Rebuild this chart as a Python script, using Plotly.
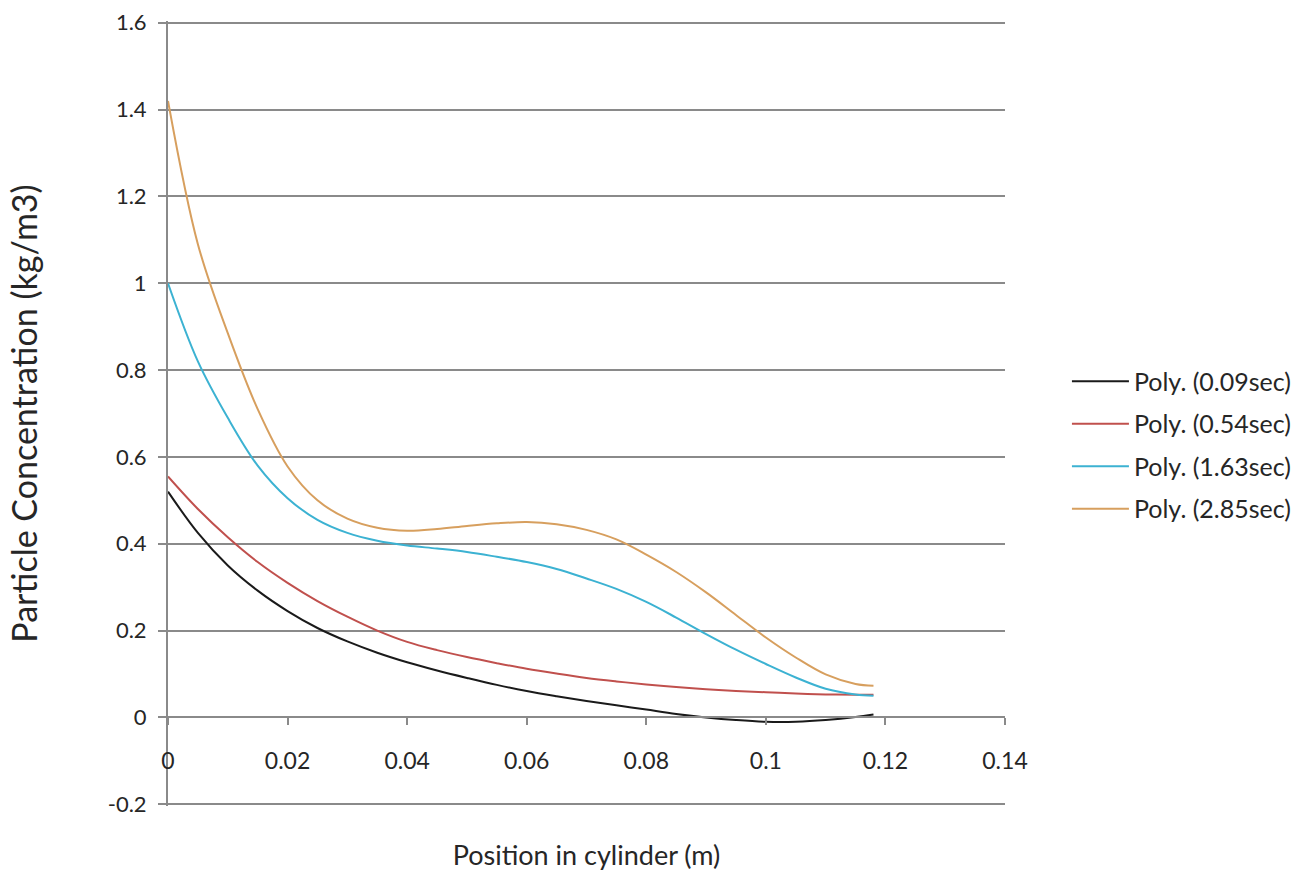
import plotly.graph_objects as go

x_pos = [0, 0.005, 0.01, 0.015, 0.02, 0.025, 0.03, 0.035, 0.04, 0.045, 0.05, 0.055,
         0.06, 0.065, 0.07, 0.075, 0.08, 0.085, 0.09, 0.095, 0.1, 0.105, 0.11, 0.115, 0.118]

poly_009 = [0.52, 0.425, 0.35, 0.292, 0.245, 0.206, 0.175, 0.149, 0.127, 0.108, 0.091, 0.075,
            0.061, 0.049, 0.038, 0.028, 0.018, 0.008, 0.000, -0.006, -0.010, -0.010, -0.006, 0.001, 0.007]
poly_054 = [0.555, 0.48, 0.415, 0.358, 0.31, 0.268, 0.232, 0.200, 0.174, 0.155, 0.139, 0.125,
            0.112, 0.101, 0.091, 0.083, 0.076, 0.070, 0.065, 0.061, 0.058, 0.055, 0.053, 0.052, 0.052]
poly_163 = [1.0, 0.82, 0.69, 0.58, 0.505, 0.455, 0.425, 0.407, 0.396, 0.389, 0.381, 0.370,
            0.358, 0.342, 0.32, 0.296, 0.266, 0.23, 0.192, 0.156, 0.123, 0.092, 0.066, 0.053, 0.05]
poly_285 = [1.42, 1.09, 0.885, 0.71, 0.578, 0.5, 0.458, 0.437, 0.43, 0.434, 0.441, 0.447,
            0.450, 0.445, 0.432, 0.41, 0.375, 0.335, 0.288, 0.236, 0.184, 0.138, 0.099, 0.077, 0.073]

series_names = ["Poly. (0.09sec)", "Poly. (0.54sec)", "Poly. (1.63sec)", "Poly. (2.85sec)"]
series_values = [poly_009, poly_054, poly_163, poly_285]
series_colors = ["#1a1a1a", "#c0504d", "#3cb2d2", "#d79f5e"]

x_ticks = [0, 0.02, 0.04, 0.06, 0.08, 0.1, 0.12, 0.14]
x_tick_text = ["0", "0.02", "0.04", "0.06", "0.08", "0.1", "0.12", "0.14"]
y_ticks = [-0.2, 0, 0.2, 0.4, 0.6, 0.8, 1, 1.2, 1.4, 1.6]
y_tick_text = ["-0.2", "0", "0.2", "0.4", "0.6", "0.8", "1", "1.2", "1.4", "1.6"]
y_range = [-0.204, 1.604]

FONT = "Lato, 'Open Sans', sans-serif"
GRID = "#8a8a8a"
TXT = "#262626"

fig = go.Figure()
for name, vals, col in zip(series_names, series_values, series_colors):
    fig.add_trace(go.Scatter(
        x=x_pos, y=vals, mode="lines", name=name, legendgroup=name,
        line=dict(color=col, width=2, shape="spline", smoothing=1.0),
    ))

# x axis crosses the value axis at y = 0
x_axis_pos = (0 - y_range[0]) / (y_range[1] - y_range[0])

fig.update_layout(
    width=1310, height=871,
    margin=dict(l=168, r=305, t=21, b=65, autoexpand=False),
    paper_bgcolor="white", plot_bgcolor="white",
    font=dict(family=FONT, size=21, color=TXT),
    showlegend=True,
    legend=dict(
        x=1.074, y=0.46, xanchor="left", yanchor="middle",
        font=dict(family=FONT, size=25, color=TXT),
        tracegroupgap=7, traceorder="grouped", itemwidth=57,
        bgcolor="rgba(0,0,0,0)",
    ),
    xaxis=dict(
        range=[0, 0.14], tickvals=x_ticks, ticktext=x_tick_text,
        automargin=False,
        showgrid=False, zeroline=False,
        showline=True, linecolor=GRID, linewidth=2,
        anchor="free", position=x_axis_pos,
        ticks="outside", ticklen=7, tickcolor=GRID, tickwidth=2,
        ticklabelstandoff=16,
        tickfont=dict(family=FONT, size=23, color=TXT),
        title=dict(text="Position in cylinder (m)", standoff=72,
                   font=dict(family=FONT, size=27, color=TXT)),
    ),
    yaxis=dict(
        range=y_range, tickvals=y_ticks, ticktext=y_tick_text,
        automargin=False,
        showgrid=True, gridcolor=GRID, gridwidth=2,
        zeroline=False,
        showline=True, linecolor=GRID, linewidth=2,
        ticks="outside", ticklen=8, tickcolor=GRID, tickwidth=2,
        ticklabelstandoff=7,
        tickfont=dict(family=FONT, size=22, color=TXT),
        title=dict(text="Particle Concentration (kg/m3)", standoff=60,
                   font=dict(family=FONT, size=34, color=TXT)),
    ),
)

fig.write_html("out.html")
